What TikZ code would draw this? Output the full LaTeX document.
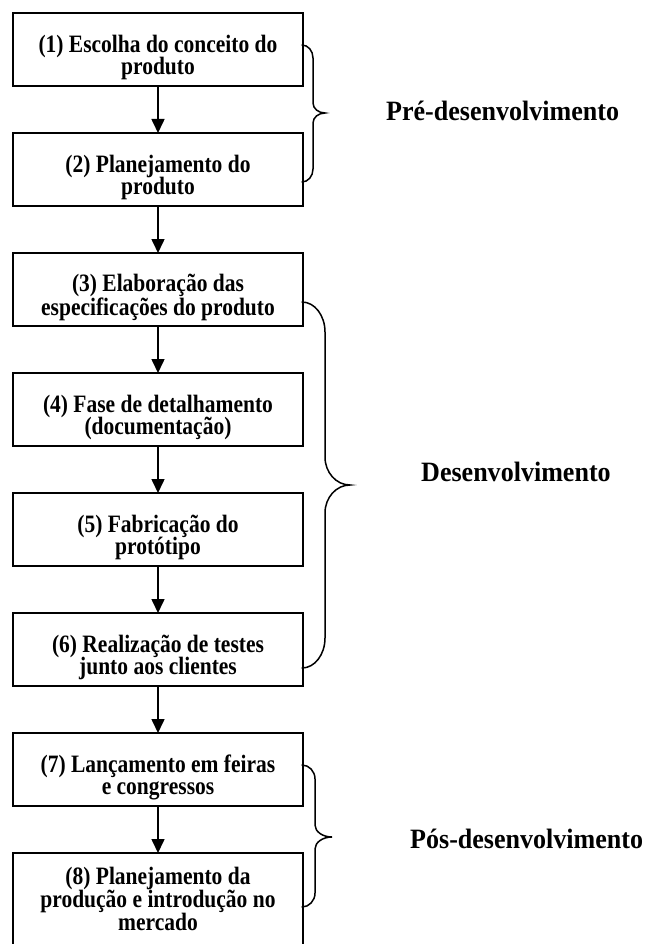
\documentclass[tikz,border=0pt]{standalone}
\usepackage{fontspec}
\setmainfont{Liberation Serif}
\newfontfamily\stagefont[FakeStretch=0.86]{Liberation Serif}
\newfontfamily\phasefont[FakeStretch=0.93]{Liberation Serif}
\usetikzlibrary{arrows.meta}

% curly brace with rounded ends: x0, x1 (spine), xt (tip), ytop, ymid, ybot, end bend, tip bend
\newcommand\phasebrace[8]{%
  \pgfmathsetmacro\pbA{#1+0.552*(#2-#1)}%
  \pgfmathsetmacro\pbB{#4+#7}%
  \pgfmathsetmacro\pbC{#4+0.448*#7}%
  \pgfmathsetmacro\pbD{#5-#8}%
  \pgfmathsetmacro\pbE{#5-0.448*#8}%
  \pgfmathsetmacro\pbF{#2+0.448*(#3-#2)}%
  \pgfmathsetmacro\pbG{#5+#8}%
  \pgfmathsetmacro\pbH{#5+0.448*#8}%
  \pgfmathsetmacro\pbI{#6-#7}%
  \pgfmathsetmacro\pbJ{#6-0.448*#7}%
  \draw[bracepath] (#1,#4) .. controls (\pbA,#4) and (#2,\pbC) .. (#2,\pbB)
    -- (#2,\pbD) .. controls (#2,\pbE) and (\pbF,#5) .. (#3,#5)
    .. controls (\pbF,#5) and (#2,\pbH) .. (#2,\pbG)
    -- (#2,\pbI) .. controls (#2,\pbJ) and (\pbA,#6) .. (#1,#6);%
}

\tikzset{
  stagebox/.style={draw, line width=1.8pt, minimum width=290pt, minimum height=73pt,
    inner sep=0pt, outer sep=0pt},
  stagetext/.style={inner sep=0pt, align=center,
    font=\stagefont\bfseries\fontsize{25}{22.8}\selectfont},
  flowarrow/.style={line width=1.6pt, -{Triangle[length=14pt,width=13pt]}},
  bracepath/.style={line width=1.5pt, line cap=round},
  phaselabel/.style={anchor=base west, inner sep=0pt,
    font=\phasefont\bfseries\fontsize{28}{30}\selectfont}
}

\begin{document}
\begin{tikzpicture}[x=1pt, y=-1pt]
\useasboundingbox (0,0) rectangle (651,944);
\clip (0,0) rectangle (651,944);

% stages of the process
\node[stagebox] (b1) at (158,49.5)  {};
\node[stagebox] (b2) at (158,169.5) {};
\node[stagebox] (b3) at (158,289.5) {};
\node[stagebox] (b4) at (158,409.5) {};
\node[stagebox] (b5) at (158,529.5) {};
\node[stagebox] (b6) at (158,649.5) {};
\node[stagebox] (b7) at (158,769.5) {};
\node[stagebox, minimum height=100pt] (b8) at (158,903) {};

\node[stagetext] (t1) at ([yshift=-8pt]b1.center) {(1) Escolha do conceito do\\produto};
\node[stagetext] (t2) at ([yshift=-8pt]b2.center) {(2) Planejamento do\\produto};
\node[stagetext] (t3) at ([yshift=-8pt]b3.center) {(3) Elaboração das\\especificações do produto};
\node[stagetext] (t4) at ([yshift=-8pt]b4.center) {(4) Fase de detalhamento\\(documentação)};
\node[stagetext] (t5) at ([yshift=-8pt]b5.center) {(5) Fabricação do\\protótipo};
\node[stagetext] (t6) at ([yshift=-8pt]b6.center) {(6) Realização de testes\\junto aos clientes};
\node[stagetext] (t7) at ([yshift=-8pt]b7.center) {(7) Lançamento em feiras\\e congressos};
\node[stagetext] (t8) at ([yshift=4pt]b8.center) {(8) Planejamento da\\produção e introdução no\\mercado};

% flow between stages
\foreach \a/\b in {b1/b2, b2/b3, b3/b4, b4/b5, b5/b6, b6/b7, b7/b8}
  \draw[flowarrow] (\a) -- (\b);

% phase braces
\phasebrace{302}{313}{325}{45}{113}{182}{13}{10}
\phasebrace{302}{325}{350}{302}{485}{668}{30}{28}
\phasebrace{302}{315}{332}{765}{837}{907}{14}{12}

% phase names
\node[phaselabel] (p1) at (386,121) {Pré-desenvolvimento};
\node[phaselabel] (p2) at (421,481.5) {Desenvolvimento};
\node[phaselabel] (p3) at (410,848) {Pós-desenvolvimento};
\end{tikzpicture}
\end{document}
